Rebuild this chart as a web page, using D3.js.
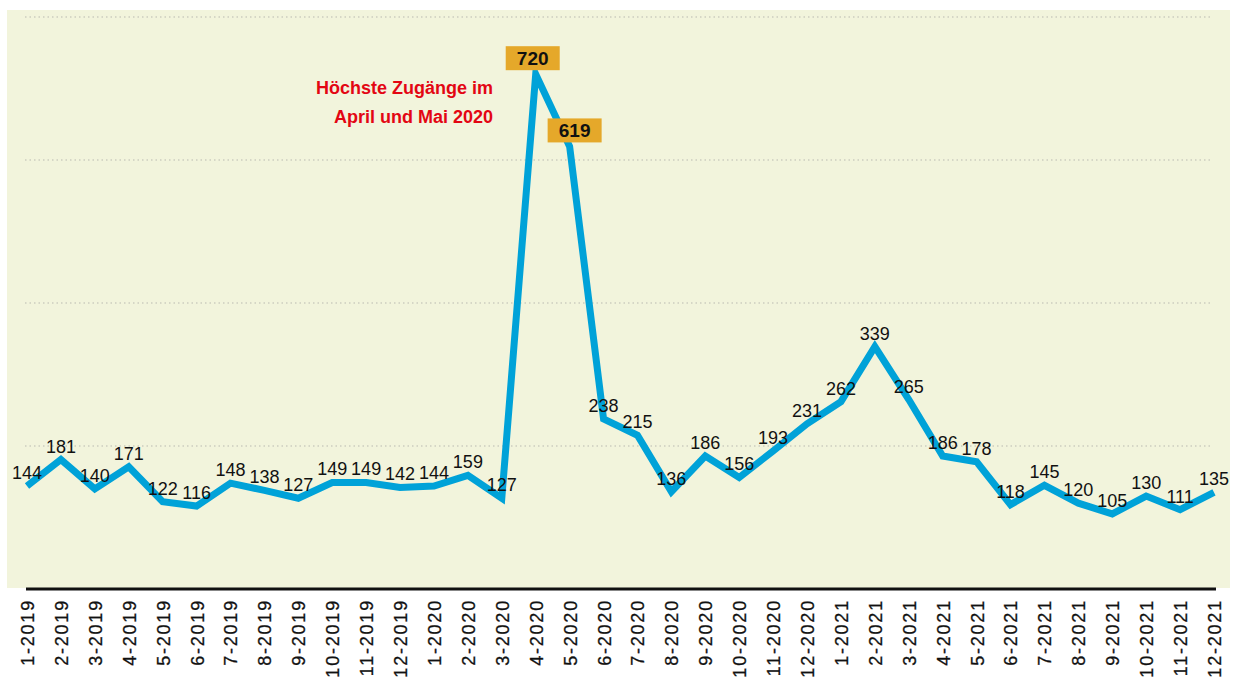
<!doctype html>
<html>
  <head>
    <meta charset="utf-8">
    <title>Zugänge 2019-2021</title>
    <script src="https://cdnjs.cloudflare.com/ajax/libs/d3/7.8.5/d3.min.js"></script>
    <style>
      body { margin: 0; background: #fff; }
      text { font-family: "Liberation Sans", Arial, sans-serif; }
    </style>
  </head>
  <body>
    <div id="chart"></div>
    <script>
      // months, one value per month
      const months = [
        '1-2019','2-2019','3-2019','4-2019','5-2019','6-2019','7-2019','8-2019','9-2019','10-2019','11-2019','12-2019',
        '1-2020','2-2020','3-2020','4-2020','5-2020','6-2020','7-2020','8-2020','9-2020','10-2020','11-2020','12-2020',
        '1-2021','2-2021','3-2021','4-2021','5-2021','6-2021','7-2021','8-2021','9-2021','10-2021','11-2021','12-2021'
      ];
      const values = [
        144,181,140,171,122,116,148,138,127,149,149,142,
        144,159,127,720,619,238,215,136,186,156,193,231,
        262,339,265,186,178,118,145,120,105,130,111,135
      ];
      const gridValues = [200, 400, 600, 800];
      const highlighted = ['4-2020', '5-2020'];
      const noteLines = ['Höchste Zugänge im', 'April und Mai 2020'];

      const W = 1237, H = 680;
      const svg = d3.select('#chart').append('svg')
        .attr('width', W).attr('height', H);

      // panel
      svg.append('rect')
        .attr('x', 7).attr('y', 10)
        .attr('width', 1223).attr('height', 578)
        .attr('fill', '#f2f4dc');

      const x = d3.scalePoint().domain(months).range([27, 1214]);
      const y = d3.scaleLinear().domain([0, 800]).range([589, 17]);

      // dotted gridlines
      svg.selectAll('.grid')
        .data(gridValues)
        .join('line')
        .attr('class', 'grid')
        .attr('x1', 25).attr('x2', 1213)
        .attr('y1', d => y(d)).attr('y2', d => y(d))
        .attr('stroke', '#b9b9b0')
        .attr('stroke-width', 1)
        .attr('stroke-dasharray', '1.5,3');

      // x axis
      const xAxis = svg.append('g')
        .attr('transform', 'translate(0,589)')
        .call(d3.axisBottom(x).tickSize(0).tickPadding(0));
      xAxis.select('.domain')
        .attr('d', 'M26,0H1216')
        .attr('stroke', '#111')
        .attr('stroke-width', 3);
      xAxis.selectAll('text')
        .attr('transform', 'rotate(-90)')
        .attr('x', -10).attr('y', 0).attr('dy', '0.36em')
        .style('text-anchor', 'end')
        .style('font-size', '18px')
        .style('letter-spacing', '1.8px')
        .style('font-family', '"Liberation Sans", Arial, sans-serif')
        .attr('fill', '#111')
        .attr('stroke', '#111')
        .attr('stroke-width', 0.3);

      // line
      const line = d3.line()
        .x((d, i) => x(months[i]))
        .y(d => y(d));
      svg.append('path')
        .datum(values)
        .attr('d', line)
        .attr('fill', 'none')
        .attr('stroke', '#00a2d8')
        .attr('stroke-width', 7)
        .attr('stroke-linejoin', 'miter');

      // value labels
      const pts = values.map((v, i) => ({ m: months[i], v }));
      svg.selectAll('.val')
        .data(pts.filter(d => !highlighted.includes(d.m)))
        .join('text')
        .attr('class', 'val')
        .attr('x', d => x(d.m))
        .attr('y', d => y(d.v) - 7)
        .attr('text-anchor', 'middle')
        .style('font-size', '18px')
        .attr('fill', '#111')
        .text(d => d.v);

      // highlighted labels in boxes
      const hl = svg.selectAll('.hl')
        .data(pts.filter(d => highlighted.includes(d.m)))
        .join('g')
        .attr('class', 'hl')
        .attr('transform', (d, i) => `translate(${x(d.m) + (i === 0 ? -3 : 5)},${y(d.v) - 4})`);
      hl.append('rect')
        .attr('x', -27).attr('y', -24)
        .attr('width', 54).attr('height', 24)
        .attr('fill', '#e5a82a');
      hl.append('text')
        .attr('y', -5)
        .attr('text-anchor', 'middle')
        .style('font-size', '19px')
        .style('font-weight', 'bold')
        .attr('fill', '#111')
        .text(d => d.v);

      // annotation
      svg.selectAll('.note')
        .data(noteLines)
        .join('text')
        .attr('class', 'note')
        .attr('x', 493)
        .attr('y', (d, i) => 94 + i * 29)
        .attr('text-anchor', 'end')
        .style('font-size', '18px')
        .style('font-weight', 'bold')
        .attr('fill', '#e30613')
        .text(d => d);
    </script>
  </body>
</html>
